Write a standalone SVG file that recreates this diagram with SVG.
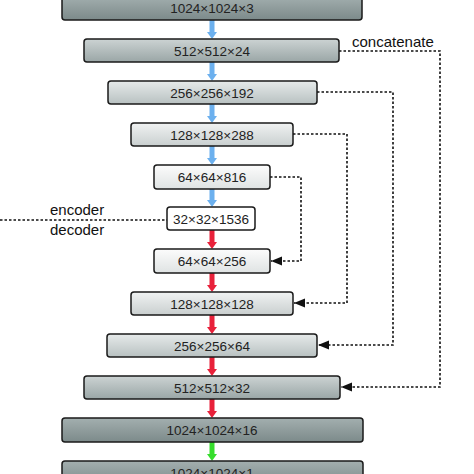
<svg xmlns="http://www.w3.org/2000/svg" width="474" height="474" viewBox="0 0 474 474">
<style>
.box{stroke:#1a1a1a;stroke-width:1.5}
.lbl{font-family:"Liberation Sans",Arial,sans-serif;font-size:13.5px;fill:#222;text-anchor:middle;dominant-baseline:central}
.side{font-family:"Liberation Sans",Arial,sans-serif;font-size:15px;fill:#111}
.dash{fill:none;stroke:#111;stroke-width:1.6;stroke-dasharray:2.5,2}
.blue{fill:#6cb0ee}
.red{fill:#e8213a}
.green{fill:#36dd2c}
</style>
<defs>
<linearGradient id="g1" x1="0" y1="0" x2="0" y2="1"><stop offset="0" stop-color="#a3afaf"/><stop offset="1" stop-color="#7c8a8a"/></linearGradient>
<linearGradient id="g2" x1="0" y1="0" x2="0" y2="1"><stop offset="0" stop-color="#ccd3d3"/><stop offset="1" stop-color="#9aa6a6"/></linearGradient>
<linearGradient id="g3" x1="0" y1="0" x2="0" y2="1"><stop offset="0" stop-color="#e6eaea"/><stop offset="1" stop-color="#b8c1c1"/></linearGradient>
<linearGradient id="g4" x1="0" y1="0" x2="0" y2="1"><stop offset="0" stop-color="#f0f2f2"/><stop offset="1" stop-color="#c9cfcf"/></linearGradient>
<linearGradient id="g5" x1="0" y1="0" x2="0" y2="1"><stop offset="0" stop-color="#fcfcfc"/><stop offset="1" stop-color="#dfe3e3"/></linearGradient>
<marker id="ah" markerUnits="userSpaceOnUse" markerWidth="12" markerHeight="10" refX="11" refY="4.5" orient="auto"><path d="M0,0 L11,4.5 L0,9 z" fill="#111"/></marker>
</defs>

<g id="connectors">
<g id="flow-arrows">
<rect class="blue" x="209.5" y="20" width="5" height="13"/><polygon class="blue" points="207,32 217,32 212,39"/>
<rect class="blue" x="209.5" y="62" width="5" height="13"/><polygon class="blue" points="207,74 217,74 212,81"/>
<rect class="blue" x="209.5" y="104" width="5" height="13"/><polygon class="blue" points="207,116 217,116 212,123"/>
<rect class="blue" x="209.5" y="146" width="5" height="13"/><polygon class="blue" points="207,158 217,158 212,165"/>
<rect class="blue" x="209.5" y="189" width="5" height="12"/><polygon class="blue" points="207,200 217,200 212,207"/>
<rect class="red" x="209.5" y="230" width="5" height="13"/><polygon class="red" points="207,242 217,242 212,249"/>
<rect class="red" x="209.5" y="273" width="5" height="13"/><polygon class="red" points="207,285 217,285 212,292"/>
<rect class="red" x="209.5" y="315" width="5" height="13"/><polygon class="red" points="207,327 217,327 212,334"/>
<rect class="red" x="209.5" y="357" width="5" height="13"/><polygon class="red" points="207,369 217,369 212,376"/>
<rect class="red" x="209.5" y="399" width="5" height="13"/><polygon class="red" points="207,411 217,411 212,418"/>
<rect class="green" x="209.5" y="442" width="5" height="13"/><polygon class="green" points="207,454 217,454 212,461"/>
</g>
<path class="dash" d="M339,51 H440 V387 H341" marker-end="url(#ah)"/>
<path class="dash" d="M317,92 H393 V345 H318" marker-end="url(#ah)"/>
<path class="dash" d="M293,134 H347 V303 H294" marker-end="url(#ah)"/>
<path class="dash" d="M270,177 H301 V261 H271" marker-end="url(#ah)"/>
<path class="dash" d="M0,220 H167"/>
</g>

<text class="side" x="352" y="47">concatenate</text>
<text class="side" x="50" y="215">encoder</text>
<text class="side" x="50" y="235">decoder</text>

<g id="n1"><rect class="box" x="62" y="-4" width="300" height="24" rx="3" fill="url(#g1)"/><text class="lbl" x="212" y="8">1024×1024×3</text></g>
<g id="n2"><rect class="box" x="84" y="39" width="255" height="23" rx="3" fill="url(#g2)"/><text class="lbl" x="212" y="51">512×512×24</text></g>
<g id="n3"><rect class="box" x="108" y="81" width="209" height="23" rx="3" fill="url(#g3)"/><text class="lbl" x="212" y="93">256×256×192</text></g>
<g id="n4"><rect class="box" x="131" y="123" width="162" height="23" rx="3" fill="url(#g4)"/><text class="lbl" x="212" y="135">128×128×288</text></g>
<g id="n5"><rect class="box" x="154" y="165" width="116" height="24" rx="3" fill="url(#g5)"/><text class="lbl" x="212" y="177">64×64×816</text></g>
<g id="n6"><rect class="box" x="167" y="207" width="88" height="23" rx="3" fill="#ffffff"/><text class="lbl" x="211" y="219">32×32×1536</text></g>
<g id="n7"><rect class="box" x="154" y="249" width="116" height="24" rx="3" fill="url(#g5)"/><text class="lbl" x="212" y="261">64×64×256</text></g>
<g id="n8"><rect class="box" x="131" y="292" width="162" height="23" rx="3" fill="url(#g4)"/><text class="lbl" x="212" y="304">128×128×128</text></g>
<g id="n9"><rect class="box" x="107" y="334" width="210" height="23" rx="3" fill="url(#g3)"/><text class="lbl" x="212" y="346">256×256×64</text></g>
<g id="n10"><rect class="box" x="84" y="376" width="256" height="23" rx="3" fill="url(#g2)"/><text class="lbl" x="212" y="388">512×512×32</text></g>
<g id="n11"><rect class="box" x="62" y="418" width="301" height="24" rx="3" fill="url(#g1)"/><text class="lbl" x="212" y="430">1024×1024×16</text></g>
<g id="n12"><rect class="box" x="62" y="461" width="301" height="24" rx="3" fill="url(#g1)"/><text class="lbl" x="212" y="473">1024×1024×1</text></g>
</svg>
